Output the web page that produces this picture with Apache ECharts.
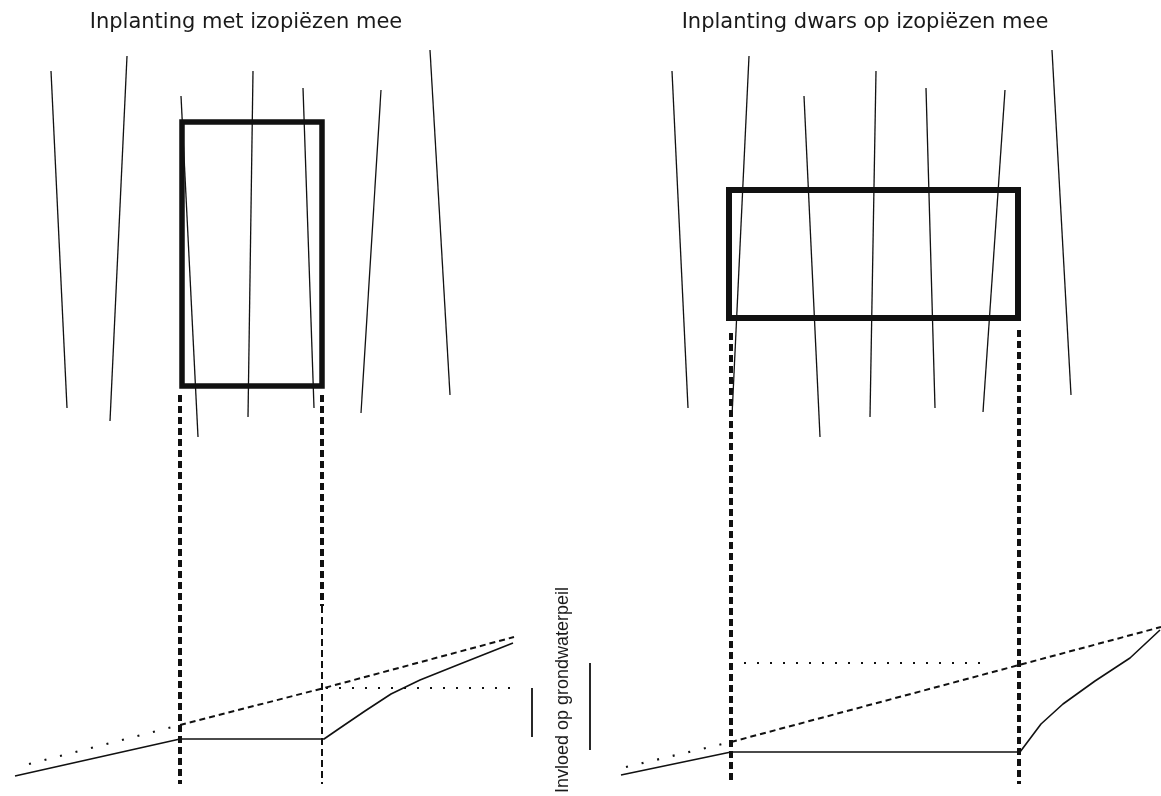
<!DOCTYPE html>
<html>
<head>
<meta charset="utf-8">
<script src="https://cdn.jsdelivr.net/npm/echarts@6/dist/echarts.min.js"></script>
<style>
html,body{margin:0;padding:0;background:#fff;}
#chart{width:1161px;height:796px;}
</style>
</head>
<body>
<div id="chart"></div>
<script>
// ---- data (picture coordinates) ----
const titles = ["Inplanting met izopiëzen mee", "Inplanting dwars op izopiëzen mee"];
const sideLabel = "Invloed op grondwaterpeil";

// isopiezic lines, left panel
const isoLeft = [
  [[51,71],[67,408]],
  [[127,56],[110,421]],
  [[181,96],[198,437]],
  [[253,71],[248,417]],
  [[303,88],[314,408]],
  [[381,90],[361,413]],
  [[430,50],[450,395]]
];
// isopiezic lines, right panel
const isoRight = [
  [[672,71],[688,408]],
  [[749,56],[732,416]],
  [[804,96],[820,437]],
  [[876,71],[870,417]],
  [[926,88],[935,408]],
  [[1005,90],[983,412]],
  [[1052,50],[1071,395]]
];
// planting blocks
const boxLeft = [[182,122],[322,122],[322,386],[182,386],[182,122]];
const boxRight = [[729,190],[1018,190],[1018,318],[729,318],[729,190]];
// projection lines
const projThick = [
  [[180,395],[180,784]],
  [[322,395],[322,606]],
  [[731,333],[731,784]],
  [[1019,330],[1019,784]]
];
const projThin = [[[322,606],[322,784]]];
// groundwater level before planting
const gwOrigDotted = [[[29,764],[180,725]], [[626,767],[731,742]]];
const gwOrigDashed = [[[180,725],[324,688],[514,637]], [[731,742],[1019,665],[1161,627]]];
// groundwater level after planting
const gwNewLeft = [[15,776],[180,739],[324,739],[340,728],[365,711],[391,694],[420,680],[460,664],[513,643]];
const gwNewRight = [[621,775],[731,752],[1020,752],[1041,724],[1063,704],[1095,681],[1130,658],[1160,630]];
// influence markers
const levelDotted = [[[326,688],[512,688]], [[744,663],[980,663]]];
const influenceBars = [[[532,688],[532,737]], [[590,663],[590,750]]];

// ---- build series ----
const series = [];
function addLine(pts, style){
  series.push({
    type:'line', data:pts, symbol:'none', silent:true, animation:false, clip:false,
    lineStyle:Object.assign({color:'#111'}, style)
  });
}
isoLeft.concat(isoRight).forEach(l => addLine(l, {width:1.3}));
addLine(boxLeft, {width:5.5, join:'miter', cap:'square'});
addLine(boxRight, {width:6, join:'miter', cap:'square'});
projThick.forEach(l => addLine(l, {width:4, type:[7,4]}));
projThin.forEach(l => addLine(l, {width:2, type:[7,4]}));
gwOrigDotted.forEach(l => addLine(l, {width:2.2, type:[2,14]}));
gwOrigDashed.forEach(l => addLine(l, {width:2, type:[6,4]}));
addLine(gwNewLeft, {width:1.6});
addLine(gwNewRight, {width:1.6});
levelDotted.forEach(l => addLine(l, {width:2, type:[2,11]}));
influenceBars.forEach(l => addLine(l, {width:1.8}));

const titleFont = {fontFamily:'DejaVu Sans', fontSize:21, fontWeight:'normal', color:'#1a1a1a'};
const chart = echarts.init(document.getElementById('chart'), null, {renderer:'canvas'});
chart.setOption({
  backgroundColor:'#fff',
  animation:false,
  title:[
    {text:titles[0], left:241, top:7, textAlign:'center', textStyle:titleFont},
    {text:titles[1], left:860, top:7, textAlign:'center', textStyle:titleFont}
  ],
  grid:{left:0, right:0, top:0, bottom:0},
  xAxis:{type:'value', min:0, max:1161, show:false},
  yAxis:{type:'value', min:0, max:796, inverse:true, show:false},
  graphic:[{
    type:'text', x:563, y:690, rotation:Math.PI/2,
    style:{text:sideLabel, fontFamily:'Liberation Sans', fontSize:18, fill:'#1a1a1a',
           align:'center', verticalAlign:'middle'}
  }],
  series:series
});
</script>
</body>
</html>
